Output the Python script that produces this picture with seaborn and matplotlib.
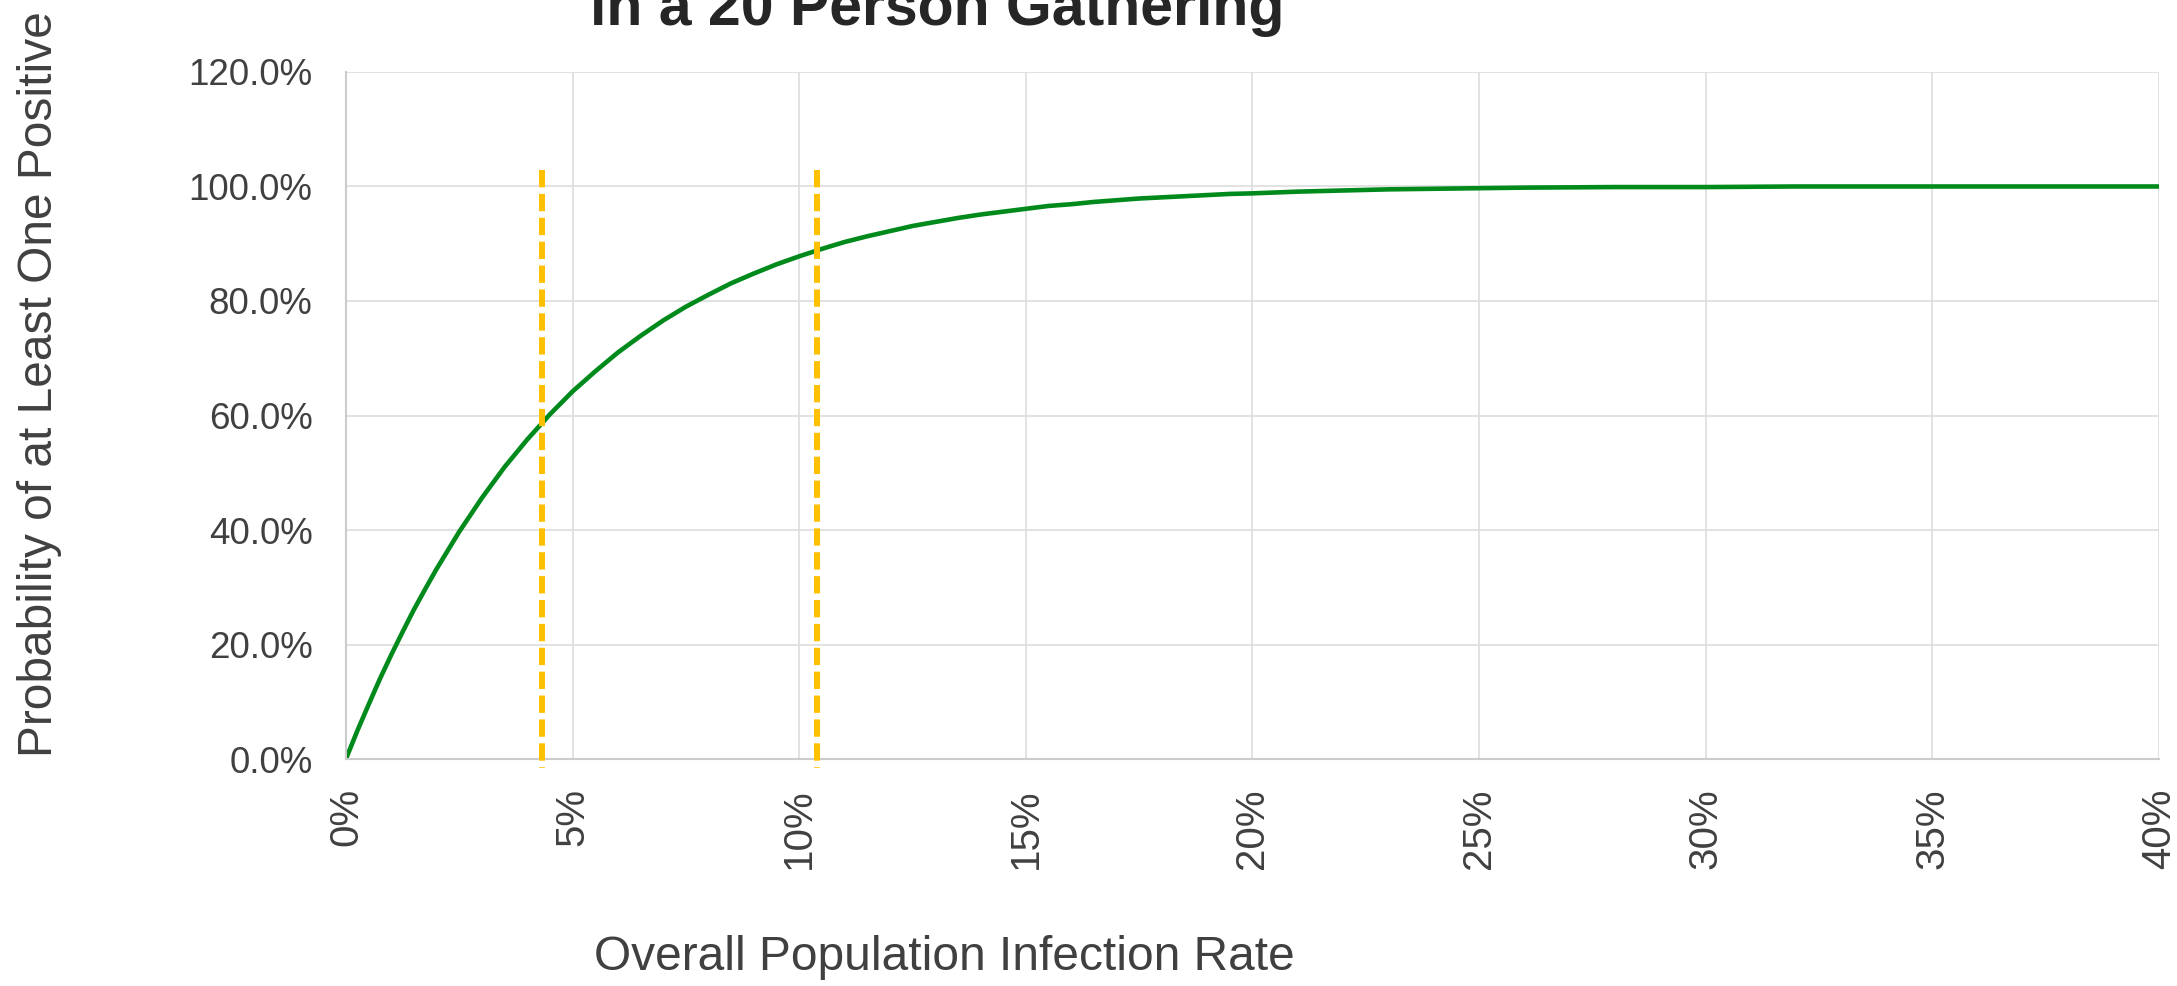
import matplotlib
matplotlib.use('Agg')
import matplotlib.pyplot as plt
import matplotlib.ticker as mticker
import seaborn as sns
import pandas as pd

# Infection rate (fraction) vs probability of at least one positive (fraction)
infection_rate = [0.0, 0.0025, 0.005, 0.0075, 0.01, 0.0125, 0.015, 0.0175, 0.02,
                  0.025, 0.03, 0.035, 0.04, 0.045, 0.05, 0.055, 0.06, 0.065, 0.07,
                  0.075, 0.08, 0.085, 0.09, 0.095, 0.10, 0.105, 0.11, 0.115, 0.12,
                  0.125, 0.13, 0.135, 0.14, 0.145, 0.15, 0.155, 0.16, 0.165, 0.17,
                  0.175, 0.18, 0.185, 0.19, 0.195, 0.20, 0.21, 0.22, 0.23, 0.24,
                  0.25, 0.26, 0.28, 0.30, 0.32, 0.34, 0.36, 0.38, 0.40]
prob_positive = [0.0, 0.049, 0.095, 0.140, 0.182, 0.222, 0.261, 0.297, 0.332,
                 0.397, 0.456, 0.510, 0.558, 0.602, 0.642, 0.677, 0.710, 0.739, 0.766,
                 0.790, 0.811, 0.831, 0.848, 0.864, 0.878, 0.891, 0.903, 0.913, 0.922,
                 0.931, 0.938, 0.945, 0.951, 0.956, 0.961, 0.966, 0.969, 0.973, 0.976,
                 0.979, 0.981, 0.983, 0.985, 0.987, 0.988, 0.991, 0.993, 0.995, 0.996,
                 0.997, 0.998, 0.999, 0.999, 1.0, 1.0, 1.0, 1.0, 1.0]

# reference markers (dashed verticals), drawn from the top down
marker_x = [0.0433, 0.104]
marker_y = [1.028, -0.016]

x_ticks = [0.0, 0.05, 0.10, 0.15, 0.20, 0.25, 0.30, 0.35, 0.40]
y_ticks = [0.0, 0.2, 0.4, 0.6, 0.8, 1.0, 1.2]

df = pd.DataFrame({'rate': infection_rate, 'prob': prob_positive})

sns.set_theme(style='whitegrid')
plt.rcParams['font.family'] = ['Liberation Sans', 'DejaVu Sans']

txt = '#404040'
fig = plt.figure(figsize=(21.77, 9.86), dpi=100)
ax = fig.add_axes([0.1589, 0.2302, 0.8328, 0.6968])

sns.lineplot(data=df, x='rate', y='prob', color='#008A1C', linewidth=3.3, ax=ax)
for ln in ax.get_lines():
    ln.set_solid_joinstyle('round')
ax.vlines(marker_x, marker_y[0], marker_y[1], colors='#FFC000', linewidth=4.3,
          linestyles=(0, (2.9, 1.1)), clip_on=False, zorder=3)

ax.set_xlim(0, 0.40)
ax.set_ylim(0, 1.2)
ax.set_xticks(x_ticks)
ax.set_yticks(y_ticks)
ax.xaxis.set_major_formatter(mticker.PercentFormatter(1.0, decimals=0))
ax.yaxis.set_major_formatter(mticker.PercentFormatter(1.0, decimals=1))
ax.tick_params(axis='x', labelsize=29, rotation=90, colors=txt, length=0, pad=21)
ax.tick_params(axis='y', labelsize=26.5, colors=txt, length=0, pad=24)
ax.grid(True, color='#DDDDDD', linewidth=1.2)
for s in ['top', 'right']:
    ax.spines[s].set_visible(False)
for s in ['left', 'bottom']:
    ax.spines[s].set_color('#CCCCCC')
    ax.spines[s].set_linewidth(1.5)
ax.set_xlabel('')
ax.set_ylabel('')

fig.text(0.4304, 0.9746, 'in a 20 Person Gathering', ha='center', va='baseline',
         fontsize=42.5, fontweight='bold', color='#262626')
fig.text(0.434, 0.0284, 'Overall Population Infection Rate', ha='center', va='center',
         fontsize=34.5, color=txt)
fig.text(0.018, 0.232, 'Probability of at Least One Positive', ha='center', va='bottom',
         rotation=90, fontsize=34.5, color=txt)

fig.savefig('out.png', dpi=100, facecolor='white')
